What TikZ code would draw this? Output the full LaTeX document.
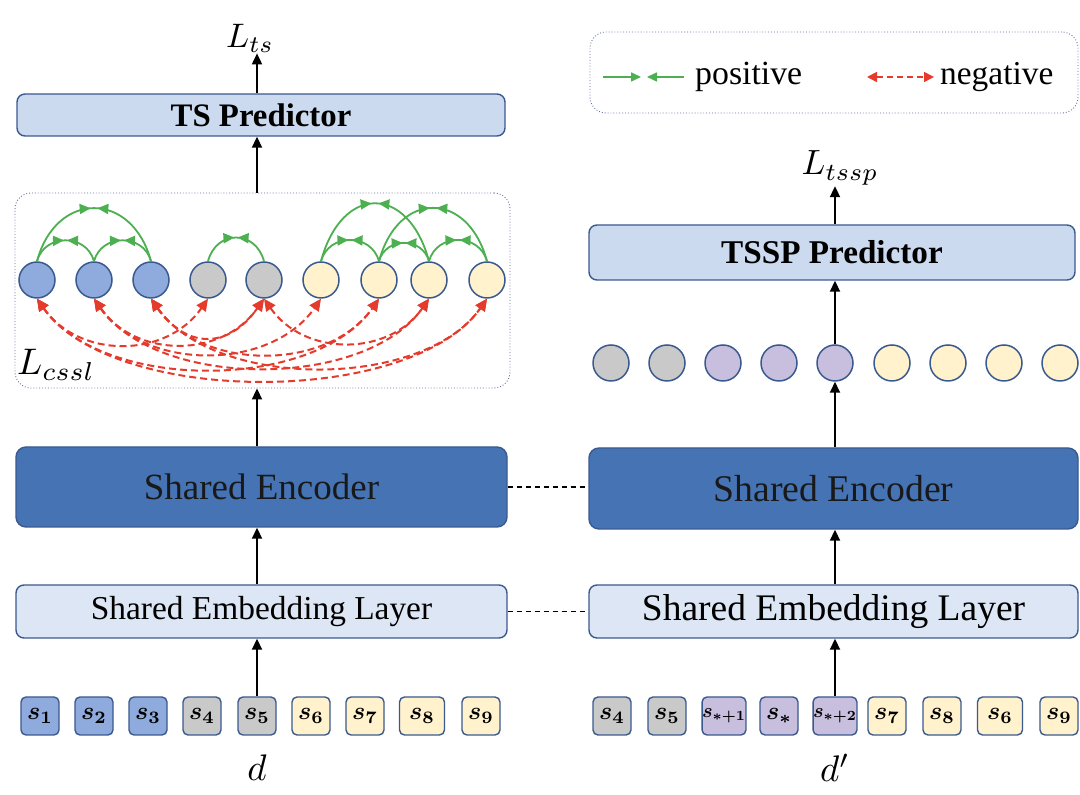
\documentclass[tikz,border=0pt]{standalone}
\usepackage{amsmath}
\usepackage{fontspec}
\setmainfont{Liberation Serif}
\usetikzlibrary{arrows.meta,decorations.markings}

\definecolor{cblue}{HTML}{8FAADC}
\definecolor{cgray}{HTML}{C9C9C9}
\definecolor{cyel}{HTML}{FFF2CC}
\definecolor{cpur}{HTML}{C8BEDE}
\definecolor{cborder}{HTML}{3A5A8F}
\definecolor{encfill}{HTML}{4673B3}
\definecolor{predfill}{HTML}{CCDAEF}
\definecolor{embfill}{HTML}{DDE6F4}
\definecolor{pgreen}{HTML}{4CAF50}
\definecolor{nred}{HTML}{E53B2C}
\definecolor{dotcol}{HTML}{6373A3}

\newcommand{\fsz}[1]{\fontsize{#1}{#1}\selectfont}
\newcommand{\mth}[2]{\scalebox{#1}{$#2$}}

\tikzset{
  anybox/.style={draw=cborder, line width=1.4pt, rounded corners=8pt, inner sep=0pt},
  predbox/.style={anybox, fill=predfill, font=\fsz{32.8}\bfseries},
  encbox/.style={anybox, fill=encfill, rounded corners=10pt, text=black!90},
  embbox/.style={anybox, fill=embfill},
  dotbox/.style={draw=dotcol, dotted, line width=0.9pt, rounded corners=16pt, inner sep=0pt},
  circ/.style={circle, draw=cborder, line width=1.5pt, minimum size=36pt, inner sep=0pt},
  tok/.style={draw=cborder, line width=1.4pt, rounded corners=5pt, minimum width=38pt, minimum height=38pt, inner sep=0pt},
  flow/.style={-{Triangle[length=11pt,width=10pt]}, line width=1.8pt, black},
  posarc/.style={pgreen, line width=1.8pt, postaction={decorate},
    decoration={markings,
      mark=at position 0.48 with {\arrow{Triangle[length=11pt,width=10pt]}},
      mark=at position 0.52 with {\arrowreversed{Triangle[length=11pt,width=10pt]}}}},
  negarc/.style={nred, line width=2pt, dash pattern=on 7pt off 4pt,
    {Triangle[length=12pt,width=11pt]}-{Triangle[length=12pt,width=11pt]}},
  lab/.style={inner sep=1pt}
}

\begin{document}
\begin{tikzpicture}[x=1pt,y=1pt]
\useasboundingbox (0,0) rectangle (1080,795);
\fill[white] (0,0) rectangle (1080,795);

% ---------------- left column ----------------
\node[lab] (lts) at (250,757) {\mth{3.4}{L_{ts}}};
\node[predbox, minimum width=488pt, minimum height=42pt] (ts) at (261,680) {TS Predictor};
\node[dotbox, minimum width=495pt, minimum height=195pt] (dbox) at (262.5,504.5) {};
\node[lab, anchor=base west] (lcssl) at (16,420) {\mth{3.7}{L_{cssl}}};

\foreach \n/\x/\c in {1/37/cblue,2/94/cblue,3/151/cblue,4/208/cgray,5/264/cgray,6/321/cyel,7/379/cyel,8/429/cyel,9/487/cyel}
  \node[circ, fill=\c] (l\n) at (\x,515) {};

% positive arcs
\foreach \a/\b/\L in {1/2/1.3,2/3/1.3,4/5/1.5,6/7/1.3,7/8/1.3,8/9/1.3}
  \draw[posarc] (l\a.north) to[out=75,in=105,looseness=\L] (l\b.north);
\foreach \a/\b/\L in {1/3/1.65,6/8/1.9,7/9/1.75}
  \draw[posarc] (l\a.north) to[out=75,in=105,looseness=\L] (l\b.north);

% negative arcs
\foreach \a/\b/\L in {1/4/1.1,1/7/0.85,1/9/0.75,2/5/1.1,2/6/1.0,2/8/0.85,3/5/1.4,3/7/1.0,3/9/0.85,5/8/1.1}
  \draw[negarc] (l\a.south) to[out=-55,in=-125,looseness=\L] (l\b.south);

\node[encbox, minimum width=491pt, minimum height=80pt, font=\fsz{37}] (encL) at (261.5,308) {Shared Encoder};
\node[embbox, minimum width=491pt, minimum height=53pt, font=\fsz{33.4}] (embL) at (261.5,183.5) {Shared Embedding Layer};

\foreach \n/\x/\c/\w in {1/40/cblue/38,2/94/cblue/38,3/148/cblue/38,4/202/cgray/38,5/257/cgray/38,6/311/cyel/38,7/365/cyel/38,8/422/cyel/45,9/481/cyel/38}
  \node[tok, fill=\c, minimum width=\w pt] (t\n) at (\x,79) {\mth{2.5}{\boldsymbol{s_{\n}}}};
\node[lab] (d) at (257,27) {\mth{3.7}{d}};

\draw[flow] (ts.north -| lts) ++(7,0) coordinate (tsa) -- (tsa |- lts.south);
\draw[flow] (dbox.north -| t5) -- (t5 |- ts.south);
\draw[flow] (encL.north -| t5) -- (t5 |- dbox.south);
\draw[flow] (embL.north -| t5) -- (t5 |- encL.south);
\draw[flow] (t5.north) -- (t5 |- embL.south);

% ---------------- right column ----------------
\node[dotbox, minimum width=488pt, minimum height=81pt] (leg) at (834,722.5) {};
\coordinate (g1) at (603,718); \coordinate (g2) at (641,718);
\coordinate (g3) at (684,718); \coordinate (g4) at (647,718);
\draw[pgreen, line width=1.6pt, -{Triangle[length=10pt,width=9pt]}] (g1) -- (g2);
\draw[pgreen, line width=1.6pt, -{Triangle[length=10pt,width=9pt]}] (g3) -- (g4);
\node[lab, font=\fsz{33.8}, anchor=base west] (pos) at (694,710) {positive};
\coordinate (n1) at (867,718); \coordinate (n2) at (934,718);
\draw[nred, line width=1.6pt, dash pattern=on 6pt off 4pt, {Triangle[length=10pt,width=10pt]}-{Triangle[length=10pt,width=10pt]}] (n1) -- (n2);
\node[lab, font=\fsz{33.4}, anchor=base west] (neg) at (939,710) {negative};

\node[lab] (ltssp) at (840,627) {\mth{3.5}{L_{tssp}}};
\node[predbox, minimum width=486pt, minimum height=55pt, font=\fsz{33.2}\bfseries] (tssp) at (832,542.5) {TSSP Predictor};

\foreach \n/\x/\c in {1/611/cgray,2/667/cgray,3/723/cpur,4/779/cpur,5/835/cpur,6/892/cyel,7/948/cyel,8/1004/cyel,9/1060/cyel}
  \node[circ, fill=\c] (r\n) at (\x,432) {};

\node[encbox, minimum width=489pt, minimum height=81pt, font=\fsz{37.7}] (encR) at (833.5,306.5) {Shared Encoder};
\node[embbox, minimum width=489pt, minimum height=53pt, font=\fsz{37.5}] (embR) at (833.5,183.5) {Shared Embedding Layer};

\node[tok, fill=cgray] (u1) at (612,79) {\mth{2.5}{\boldsymbol{s_{4}}}};
\node[tok, fill=cgray] (u2) at (667,79) {\mth{2.5}{\boldsymbol{s_{5}}}};
\node[tok, fill=cpur] (u3) at (724,79) {\mth{2.0}{\boldsymbol{s_{*+1}}}};
\node[tok, fill=cpur] (u4) at (779,79) {\mth{2.5}{\boldsymbol{s_{*}}}};
\node[tok, fill=cpur] (u5) at (835,79) {\mth{2.0}{\boldsymbol{s_{*+2}}}};
\node[tok, fill=cyel] (u6) at (887,79) {\mth{2.5}{\boldsymbol{s_{7}}}};
\node[tok, fill=cyel] (u7) at (942,79) {\mth{2.5}{\boldsymbol{s_{8}}}};
\node[tok, fill=cyel, minimum width=45pt] (u8) at (1000,79) {\mth{2.5}{\boldsymbol{s_{6}}}};
\node[tok, fill=cyel] (u9) at (1059,79) {\mth{2.5}{\boldsymbol{s_{9}}}};
\node[lab] (dp) at (835,27) {\mth{3.7}{d'}};

\draw[flow] (tssp.north -| u5) -- (u5 |- ltssp.south);
\draw[flow] (r5.north) -- (u5 |- tssp.south);
\draw[flow] (encR.north -| u5) -- (r5.south);
\draw[flow] (embR.north -| u5) -- (u5 |- encR.south);
\draw[flow] (u5.north) -- (u5 |- embR.south);

% shared links
\draw[line width=1.4pt, dash pattern=on 5pt off 4pt] (encL.east) -- (encL.east -| encR.west);
\draw[line width=1.4pt, dash pattern=on 5pt off 4pt] (embL.east) -- (embL.east -| embR.west);
\end{tikzpicture}
\end{document}
